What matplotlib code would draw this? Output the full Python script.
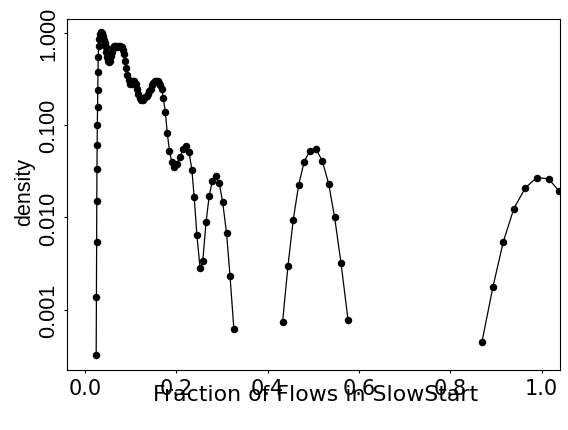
import numpy as np
import matplotlib
matplotlib.use("Agg")
import matplotlib.pyplot as plt

plt.rcParams['font.family'] = ['Liberation Sans', 'DejaVu Sans']

# segment 1: fractions up to ~0.33
x1 = [0.0245, 0.0250, 0.0255, 0.0258, 0.0262, 0.0266, 0.0270, 0.0275, 0.0280, 0.0285,
      0.0290, 0.0300, 0.0315, 0.0330, 0.0350, 0.0370, 0.0390, 0.0410, 0.0430, 0.0450,
      0.0470, 0.0490, 0.0510, 0.0530, 0.0550, 0.0570, 0.0590, 0.0610, 0.0630, 0.0650,
      0.0680, 0.0710, 0.0740, 0.0770, 0.0800, 0.0830, 0.0860, 0.0880, 0.0900, 0.0930,
      0.0960, 0.0990, 0.1020, 0.1050, 0.1080, 0.1110, 0.1140, 0.1170, 0.1200, 0.1230,
      0.1260, 0.1290, 0.1320, 0.1350, 0.1380, 0.1410, 0.1440, 0.1470, 0.1500, 0.1530,
      0.1560, 0.1590, 0.1620, 0.1650, 0.1680, 0.1715, 0.1760, 0.1800, 0.1850, 0.1900,
      0.1950, 0.2010, 0.2080, 0.2150, 0.2210, 0.2280, 0.2340, 0.2390, 0.2450, 0.2520,
      0.2580, 0.2650, 0.2720, 0.2790, 0.2860, 0.2940, 0.3015, 0.3100, 0.3175, 0.3260]
y1 = [0.000323, 0.00137, 0.0054, 0.0151, 0.0335, 0.061, 0.100, 0.157, 0.243, 0.377,
      0.545, 0.73, 0.86, 0.97, 1.02, 1.00, 0.93, 0.85, 0.78, 0.70,
      0.62, 0.55, 0.50, 0.48, 0.50, 0.56, 0.63, 0.69, 0.72, 0.73,
      0.72, 0.70, 0.72, 0.73, 0.70, 0.65, 0.59, 0.50, 0.42, 0.35,
      0.31, 0.28, 0.28, 0.30, 0.30, 0.28, 0.25, 0.22, 0.195, 0.19,
      0.19, 0.195, 0.20, 0.21, 0.22, 0.235, 0.25, 0.27, 0.29, 0.30,
      0.305, 0.30, 0.29, 0.27, 0.25, 0.196, 0.138, 0.083, 0.053, 0.040,
      0.0355, 0.038, 0.0456, 0.0552, 0.059, 0.0508, 0.033, 0.0168, 0.00645, 0.00281,
      0.0034, 0.00885, 0.0172, 0.025, 0.0279, 0.0234, 0.0146, 0.00673, 0.00233, 0.000617]

# segment 2: around one half
x2 = [0.4326, 0.4445, 0.4560, 0.4680, 0.4800, 0.4927, 0.5058, 0.5196, 0.5335, 0.5466,
      0.5605, 0.5759]
y2 = [0.00073, 0.0030, 0.00946, 0.0227, 0.0403, 0.053, 0.055, 0.0412, 0.0232, 0.0100,
      0.00323, 0.00078]

# segment 3: near one
x3 = [0.8693, 0.8933, 0.9160, 0.9390, 0.9643, 0.9890, 1.0150, 1.0385]
y3 = [0.000449, 0.00177, 0.00546, 0.01245, 0.0210, 0.0270, 0.0263, 0.0192]

xticks = [0.0, 0.2, 0.4, 0.6, 0.8, 1.0]
xtick_labels = ['0.0', '0.2', '0.4', '0.6', '0.8', '1.0']
yticks = [0.001, 0.01, 0.1, 1.0]
ytick_labels = ['0.001', '0.010', '0.100', '1.000']

wide = ['DejaVu Sans']  # x-axis texts are wider in the reference
narrow = ['Liberation Sans', 'DejaVu Sans']

fig = plt.figure(figsize=(5.68, 4.31), dpi=100)
ax = fig.add_axes([67 / 568, 60 / 431, 493 / 568, 351 / 431])

for xs, ys in [(x1, y1), (x2, y2), (x3, y3)]:
    ax.plot(xs, ys, color='black', linewidth=0.9, marker='o', markersize=5.4,
            markeredgewidth=0)

ax.set_yscale('log')
ax.set_xlim(-0.0394, 1.0401)
ax.set_ylim(10 ** -3.654, 10 ** 0.1518)

ax.set_xticks(xticks)
ax.set_xticklabels(xtick_labels, family=wide, fontsize=15)
ax.set_yticks(yticks)
ax.set_yticklabels(ytick_labels, rotation=90, va='center', family=narrow, fontsize=15.5)
ax.minorticks_off()
ax.tick_params(axis='both', length=2.5, width=0.8, direction='out')
ax.tick_params(axis='x', pad=3)
ax.tick_params(axis='y', pad=3)

for s in ax.spines.values():
    s.set_linewidth(0.8)

ax.set_xlabel('Fraction of Flows in SlowStart', family=wide, fontsize=15.8)
ax.xaxis.set_label_coords(0.504, -0.041)
ax.set_ylabel('density', family=narrow, fontsize=15.5)
ax.yaxis.set_label_coords(-0.065, 0.51)

fig.savefig('out.png', dpi=100)
